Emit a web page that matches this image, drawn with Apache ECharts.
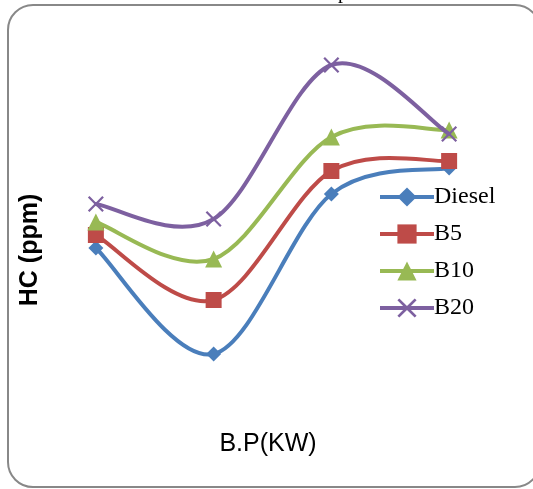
<!DOCTYPE html>
<html>
<head>
<meta charset="utf-8">
<script src="https://cdn.jsdelivr.net/npm/echarts@6/dist/echarts.min.js"></script>
<style>html,body{margin:0;padding:0;background:#fff;}#c{width:533px;height:489px;}</style>
</head>
<body>
<div id="c"></div>
<script>
const categories = ['1', '2', '3', '4'];
const diesel = [38, 11.5, 51.5, 58];
const b5 = [41.25, 25, 57.25, 59.75];
const b10 = [44.5, 35.25, 65.75, 67.5];
const b20 = [49, 45.25, 83.75, 66.5];
const seriesNames = ['Diesel', 'B5', 'B10', 'B20'];
const xTitle = 'B.P(KW)';
const yTitle = 'HC (ppm)';

const colors = ['#4a7ebb', '#be4b48', '#98b954', '#7d60a0'];
const crossPath = 'path://M0,1.2L1.2,0L6,4.8L10.8,0L12,1.2L7.2,6L12,10.8L10.8,12L6,7.2L1.2,12L0,10.8L4.8,6Z';
const symbols = ['diamond', 'rect', 'triangle', crossPath];
const sizes = [15, 16, 17, 16];
const datas = [diesel, b5, b10, b20];

// Excel-like smoothed curve (Catmull-Rom) through the data points, positioned by the axis scales
function curveSeries(arr, idx) {
  return {
    name: seriesNames[idx] + ' curve', type: 'custom',
    data: arr.map((v, i) => [i, v]),
    encode: {x: 0, y: 1},
    z: 2 + idx * 2,
    silent: true,
    renderItem: function (params, api) {
      if (params.dataIndex !== 0) return null;
      const pts = arr.map((v, i) => api.coord([i, v]));
      const children = [];
      for (let i = 0; i < pts.length - 1; i++) {
        const p0 = pts[Math.max(i - 1, 0)], p1 = pts[i], p2 = pts[i + 1], p3 = pts[Math.min(i + 2, pts.length - 1)];
        children.push({
          type: 'bezierCurve',
          shape: {
            x1: p1[0], y1: p1[1],
            cpx1: p1[0] + (p2[0] - p0[0]) / 6, cpy1: p1[1] + (p2[1] - p0[1]) / 6,
            cpx2: p2[0] - (p3[0] - p1[0]) / 6, cpy2: p2[1] - (p3[1] - p1[1]) / 6,
            x2: p2[0], y2: p2[1]
          },
          style: {stroke: colors[idx], lineWidth: 4, fill: 'none', lineCap: 'round'}
        });
      }
      return {type: 'group', children: children};
    }
  };
}

const markerSeries = datas.map((d, i) => ({
  name: seriesNames[i], type: 'line', data: d, smooth: false,
  symbol: symbols[i], symbolSize: sizes[i], showSymbol: true,
  lineStyle: {color: colors[i], width: 4, opacity: 0},
  itemStyle: {color: colors[i]},
  z: 3 + i * 2
}));

const chart = echarts.init(document.getElementById('c'), null, {renderer: 'canvas'});
chart.setOption({
  animation: false,
  backgroundColor: '#fff',
  grid: {left: 37, right: 25, top: 40, bottom: 89, containLabel: false},
  xAxis: {
    type: 'category', data: categories, boundaryGap: true,
    axisLine: {show: false}, axisTick: {show: false}, axisLabel: {show: false}, splitLine: {show: false}
  },
  yAxis: {
    type: 'value', min: 0, max: 90,
    axisLine: {show: false}, axisTick: {show: false}, axisLabel: {show: false}, splitLine: {show: false}
  },
  legend: {
    orient: 'vertical', left: 373, top: 180, itemGap: 13, itemWidth: 54, itemHeight: 24,
    lineStyle: {width: 4, opacity: 1},
    textStyle: {fontFamily: 'Liberation Serif', fontSize: 24, color: '#000', padding: [0, 0, 0, -5]},
    data: seriesNames
  },
  series: datas.map((d, i) => curveSeries(d, i)).concat(markerSeries),
  graphic: [
    {type: 'rect', shape: {x: 8, y: 5, width: 532, height: 482, r: 25}, style: {fill: 'none', stroke: '#888', lineWidth: 2}, z: 100, silent: true},
    {type: 'text', x: 30, y: 250, rotation: Math.PI / 2, style: {text: yTitle, font: 'bold 25px "Liberation Sans", Arial', fill: '#000', align: 'center', verticalAlign: 'middle'}, z: 100},
    {type: 'text', x: 268, y: 444, style: {text: xTitle, font: '25px "Liberation Sans", Arial', fill: '#000', align: 'center', verticalAlign: 'middle'}, z: 100},
    {type: 'text', x: 343, y: -17, style: {text: 'p', font: '20px "Liberation Serif"', fill: '#000', align: 'center', verticalAlign: 'top'}, z: 100}
  ]
});
</script>
</body>
</html>
